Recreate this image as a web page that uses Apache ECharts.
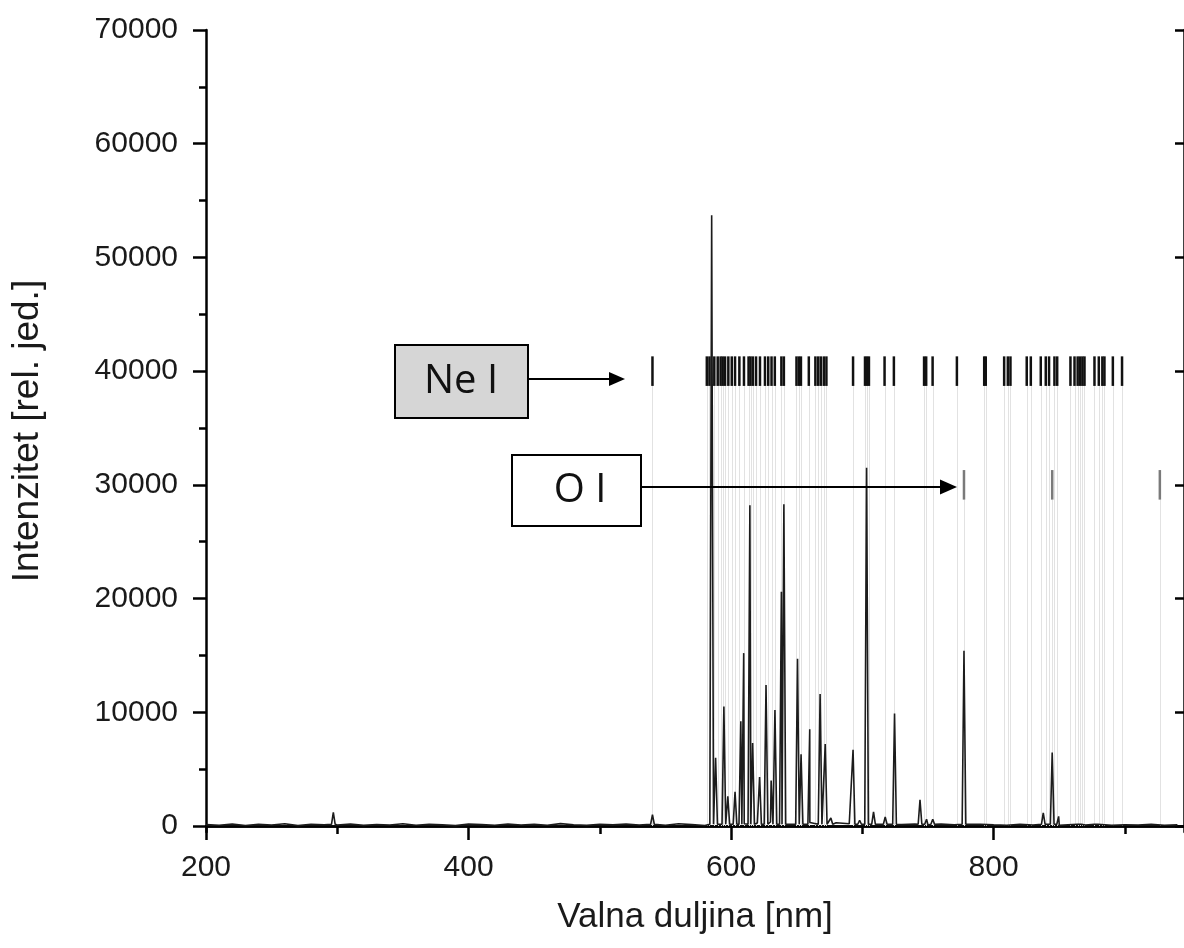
<!DOCTYPE html>
<html>
<head>
<meta charset="utf-8">
<script src="https://cdn.jsdelivr.net/npm/echarts@6/dist/echarts.min.js"></script>
<style>
  html, body { margin: 0; padding: 0; background: #fff; }
  #chart { width: 1184px; height: 948px; }
</style>
</head>
<body>
<div id="chart"></div>
<script>
// tick values
var xMajorTicks = [200, 400, 600, 800];
var xMinorTicks = [300, 500, 700, 900];
var xTopTicks = [200, 300, 400, 500, 600, 700, 800, 900];
var yMajorTicks = [0, 10000, 20000, 30000, 40000, 50000, 60000, 70000];
var yMinorTicks = [5000, 15000, 25000, 35000, 45000, 55000, 65000];

// emission peaks (nm, intensity)
var peakNm = [297.0, 540.1, 585.2, 588.2, 594.5, 597.5, 603.0, 607.4, 609.6, 614.3,
  616.4, 621.7, 626.6, 630.5, 633.4, 638.3, 640.2, 650.6, 653.3, 659.9,
  667.8, 671.7, 676.0, 692.9, 697.9, 703.2, 708.5, 717.4, 724.5, 743.9,
  748.9, 753.6, 777.4, 837.8, 844.6, 849.5, 865.4, 878.0];
var peakInt = [1200, 1000, 53700, 6000, 10500, 2600, 3000, 9200, 15200, 28200,
  7300, 4300, 12400, 4000, 10200, 20600, 28300, 14700, 6300, 8500,
  11600, 7200, 700, 6700, 500, 31500, 1250, 800, 9900, 2300,
  600, 600, 15400, 1150, 6450, 850, 300, 250];
var peakFoot = 150;
var peakHalfWidth = 1.4;

// background level, one value every 10 nm from 200 nm
var baseInt = [120, 60, 180, 40, 140, 90, 200, 30, 150, 110,
  80, 170, 50, 130, 90, 190, 60, 140, 100, 30,
  160, 120, 70, 180, 90, 140, 60, 210, 110, 50,
  150, 100, 170, 80, 130, 60, 190, 120, 40, 250,
  300, 200, 260, 350, 180, 240, 300, 220, 280, 190,
  250, 160, 220, 130, 180, 90, 160, 110, 70, 150,
  100, 60, 140, 90, 120, 50, 130, 80, 150, 60,
  110, 90, 140, 70, 100];

// Ne I and O I line positions (nm)
var neLines = [540.1, 581.5, 583.5, 587.2, 589.8, 592.0, 593.6, 595.4, 597.9, 600.5,
  603.0, 606.3, 609.8, 613.3, 614.8, 616.6, 619.0, 622.0, 625.8, 628.3,
  630.8, 633.3, 638.3, 640.2, 649.8, 651.6, 653.2, 659.2, 664.2, 666.3,
  668.3, 670.6, 672.6, 692.9, 702.0, 703.5, 705.0, 716.9, 724.0, 747.0,
  748.6, 753.5, 772.0, 792.8, 794.0, 808.0, 810.8, 812.8, 825.2, 828.3,
  835.9, 839.7, 842.2, 846.3, 848.4, 858.5, 861.6, 864.0, 865.8, 867.6,
  869.2, 876.8, 880.1, 882.8, 884.4, 890.8, 897.8];
var oLines = [777.4, 844.6, 926.6];
var neBand = [38700, 41300];
var oBand = [28700, 31300];

var spectrum = baseInt.map(function (v, i) { return [200 + i * 10, v]; });
peakNm.forEach(function (nm, i) {
  spectrum.push([nm - peakHalfWidth, peakFoot]);
  spectrum.push([nm, peakInt[i]]);
  spectrum.push([nm + peakHalfWidth, peakFoot]);
});
spectrum.sort(function (a, b) { return a[0] - b[0]; });

var neData = neLines.map(function (nm) { return [nm, neBand[0], neBand[1]]; });
var oData = oLines.map(function (nm) { return [nm, oBand[0], oBand[1]]; });

var font = "'Liberation Sans', Arial, sans-serif";
var ink = '#1a1a1a';

function dropLine(params, api) {
  var p0 = api.coord([api.value(0), 0]);
  var p1 = api.coord([api.value(0), api.value(1)]);
  return {
    type: 'line',
    shape: { x1: Math.round(p0[0]) + 0.5, y1: p0[1], x2: Math.round(p0[0]) + 0.5, y2: p1[1] },
    style: { stroke: '#e2e2e2', lineWidth: 1 }
  };
}
function markerBar(color) {
  return function (params, api) {
    var p1 = api.coord([api.value(0), api.value(1)]);
    var p2 = api.coord([api.value(0), api.value(2)]);
    return {
      type: 'line',
      shape: { x1: p1[0], y1: p1[1], x2: p2[0], y2: p2[1] },
      style: { stroke: color, lineWidth: 2.5 }
    };
  };
}
function plain(v) { return String(v); }

var chart = echarts.init(document.getElementById('chart'));
var axisLineStyle = { color: '#000', width: 2.5 };
var tickStyle = { color: '#000', width: 2.5 };

chart.setOption({
  animation: false,
  backgroundColor: '#fff',
  grid: { left: 206, top: 30, right: -3, bottom: 116 },
  xAxis: [{
    type: 'value', position: 'bottom', min: 200, max: 945,
    name: 'Valna duljina [nm]', nameLocation: 'middle', nameGap: 68,
    nameTextStyle: { fontFamily: font, fontSize: 35, color: ink },
    axisLine: { show: true, lineStyle: axisLineStyle },
    axisTick: { show: true, customValues: xMajorTicks, length: 14, lineStyle: tickStyle },
    axisLabel: { customValues: xMajorTicks, formatter: plain, fontFamily: font, fontSize: 30, color: ink, margin: 21 },
    splitLine: { show: false }
  }, {
    type: 'value', position: 'bottom', min: 200, max: 945,
    axisLine: { show: false },
    axisTick: { show: true, customValues: xMinorTicks, length: 8, lineStyle: tickStyle },
    axisLabel: { show: false },
    splitLine: { show: false }
  }, {
    type: 'value', position: 'top', min: 200, max: 945,
    axisLine: { show: true, lineStyle: axisLineStyle },
    axisTick: { show: true, inside: true, customValues: xTopTicks, length: 7, lineStyle: tickStyle },
    axisLabel: { show: false },
    splitLine: { show: false }
  }],
  yAxis: [{
    type: 'value', position: 'left', min: -530, max: 70000,
    name: 'Intenzitet [rel. jed.]', nameLocation: 'middle', nameGap: 160,
    nameTextStyle: { fontFamily: font, fontSize: 37, color: ink },
    axisLine: { show: true, lineStyle: axisLineStyle },
    axisTick: { show: true, customValues: yMajorTicks, length: 13, lineStyle: tickStyle },
    axisLabel: { customValues: yMajorTicks, formatter: plain, fontFamily: font, fontSize: 30, color: ink, margin: 28 },
    splitLine: { show: false }
  }, {
    type: 'value', position: 'left', min: -530, max: 70000,
    axisLine: { show: false },
    axisTick: { show: true, customValues: yMinorTicks, length: 7, lineStyle: tickStyle },
    axisLabel: { show: false },
    splitLine: { show: false }
  }, {
    type: 'value', position: 'right', min: -530, max: 70000,
    axisLine: { show: true, lineStyle: axisLineStyle },
    axisTick: { show: true, inside: true, customValues: yMajorTicks, length: 9, lineStyle: tickStyle },
    axisLabel: { show: false },
    splitLine: { show: false }
  }],
  series: [{
    type: 'custom', name: 'drop-ne', z: 1, silent: true,
    renderItem: dropLine, data: neData
  }, {
    type: 'custom', name: 'drop-o', z: 1, silent: true,
    renderItem: dropLine, data: oData
  }, {
    type: 'line', name: 'spektar', z: 2, silent: true,
    data: spectrum, showSymbol: false, symbol: 'none',
    lineStyle: { color: '#1c1c1c', width: 1.6 }
  }, {
    type: 'custom', name: 'Ne I', z: 3, silent: true,
    renderItem: markerBar('#111'), data: neData
  }, {
    type: 'custom', name: 'O I', z: 3, silent: true,
    renderItem: markerBar('#7a7a7a'), data: oData
  }],
  graphic: [
    { type: 'rect', shape: { x: 395, y: 345, width: 133, height: 73 }, style: { fill: '#d6d6d6', stroke: '#000', lineWidth: 2 }, z: 10 },
    { type: 'text', x: 461, y: 382, style: { text: 'Ne I', font: "40px 'Open Sans', sans-serif", fill: '#111', align: 'center', verticalAlign: 'middle' }, z: 11 },
    { type: 'line', shape: { x1: 528, y1: 379, x2: 612, y2: 379 }, style: { stroke: '#000', lineWidth: 2 }, z: 10 },
    { type: 'polygon', shape: { points: [[625, 379], [609, 372], [609, 386]] }, style: { fill: '#000' }, z: 10 },
    { type: 'rect', shape: { x: 512, y: 455, width: 129, height: 71 }, style: { fill: '#fff', stroke: '#000', lineWidth: 2 }, z: 10 },
    { type: 'text', x: 580, y: 491, style: { text: 'O I', font: "40px 'Open Sans', sans-serif", fill: '#111', align: 'center', verticalAlign: 'middle' }, z: 11 },
    { type: 'line', shape: { x1: 641, y1: 487, x2: 943, y2: 487 }, style: { stroke: '#000', lineWidth: 2 }, z: 10 },
    { type: 'polygon', shape: { points: [[957, 487], [940, 479.5], [940, 494.5]] }, style: { fill: '#000' }, z: 10 }
  ]
});
</script>
</body>
</html>
